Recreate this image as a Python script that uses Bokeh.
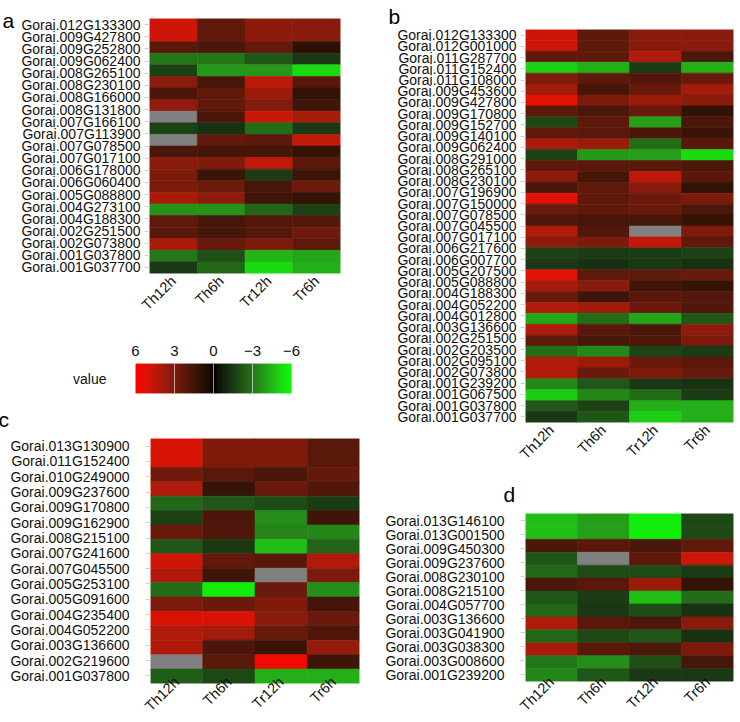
import math
import numpy as np
from bokeh.core.properties import value
from bokeh.embed import file_html
from bokeh.layouts import column, row
from bokeh.models import (CategoricalAxis, ColumnDataSource, FactorRange, FixedTicker,
                          LinearColorMapper, Range1d, Span)
from bokeh.plotting import figure
from bokeh.resources import INLINE
from bokeh.transform import transform

FONT = "Liberation Sans"
NA = float("nan")
BLANK = " "  # tile row that carries no gene label

samples = ["Th12h", "Th6h", "Tr12h", "Tr6h"]

# ---- panel a ----
a_genes = ["Gorai.012G133300", "Gorai.009G427800", "Gorai.009G252800", "Gorai.009G062400",
           "Gorai.008G265100", "Gorai.008G230100", "Gorai.008G166000", "Gorai.008G131800",
           "Gorai.007G166100", "Gorai.007G113900", BLANK, "Gorai.007G078500",
           "Gorai.007G017100", "Gorai.006G178000", "Gorai.006G060400", "Gorai.005G088800",
           "Gorai.004G273100", "Gorai.004G188300", "Gorai.002G251500", "Gorai.002G073800",
           "Gorai.001G037800", "Gorai.001G037700"]
a_th12h = [4.95, 4.95, 2.2, -3.0, -1.6, 3.35, 1.8, 3.55, NA, -1.65, NA, 1.8, 3.35, 3.0, 3.0,
           4.05, -3.6, 2.3, 2.2, 4.05, -3.0, -1.4]
a_th6h = [2.3, 2.3, 1.8, -3.0, -3.75, 1.65, 2.3, 2.35, 1.8, -1.2, 2.4, 1.65, 3.1, 1.4, 2.7,
          3.45, -3.6, 1.65, 1.65, 2.5, -2.0, -2.6]
a_tr12h = [3.45, 3.45, 2.4, -2.2, -3.75, 4.5, 3.75, 3.15, 4.8, -2.75, 2.2, 1.65, 4.6, -1.5,
           1.65, 1.5, -2.6, 2.05, 2.05, 3.0, -4.4, -5.25]
a_tr6h = [3.35, 3.35, 1.0, -1.4, -5.25, 2.2, 1.2, 1.5, 4.05, -1.4, 4.6, 1.25, 2.2, 1.4, 2.7,
          1.2, -1.6, 2.05, 2.7, 2.3, -4.05, -4.25]

# ---- panel b ----
b_genes = ["Gorai.012G133300", "Gorai.012G001000", "Gorai.011G287700", "Gorai.011G152400",
           "Gorai.011G108000", "Gorai.009G453600", "Gorai.009G427800", "Gorai.009G170800",
           "Gorai.009G152700", "Gorai.009G140100", "Gorai.009G062400", "Gorai.008G291000",
           "Gorai.008G265100", "Gorai.008G230100", "Gorai.007G196900", "Gorai.007G150000",
           BLANK, "Gorai.007G078500", "Gorai.007G045500", "Gorai.007G017100",
           "Gorai.006G217600", "Gorai.006G007700", "Gorai.005G207500", "Gorai.005G088800",
           "Gorai.004G188300", "Gorai.004G052200", "Gorai.004G012800", "Gorai.003G136600",
           "Gorai.002G251500", "Gorai.002G203500", "Gorai.002G095100", "Gorai.002G073800",
           "Gorai.001G239200", "Gorai.001G067500", "Gorai.001G037800", "Gorai.001G037700"]
b_th12h = [4.9, 4.9, 2.3, -5.0, 3.0, 3.9, 5.3, 2.3, -1.8, 2.3, 4.05, -1.65, 2.3, 3.45, 1.8,
           5.3, 2.6, 1.9, 4.25, 3.45, -1.65, -1.4, 5.3, 3.9, 2.6, 4.25, -4.05, 4.25, 2.3,
           -2.75, 4.25, 4.25, -3.35, -4.9, -2.2, -1.4]
b_th6h = [2.3, 2.3, 2.3, -4.25, 2.3, 1.65, 3.0, 1.8, 2.3, 2.2, 3.75, -3.75, 2.2, 1.65, 2.3,
          2.3, 2.3, 1.65, 1.95, 3.0, -1.5, -1.2, 2.3, 3.35, 1.5, 3.9, -2.75, 2.2, 1.65,
          -3.35, 3.75, 2.6, -2.2, -3.35, -1.65, -2.2]
b_tr12h = [3.35, 3.35, 4.25, -1.5, 2.0, 2.6, 3.75, 2.6, -3.9, 1.8, -2.75, -3.9, 2.2, 4.5,
           3.35, 2.6, 2.6, 1.65, NA, 4.7, -1.5, -1.4, 2.3, 1.5, 2.2, 2.6, -4.05, 1.8, 1.9,
           -1.65, 2.6, 3.0, -1.4, -2.75, -4.25, -4.95]
b_tr6h = [3.35, 3.35, 1.8, -4.25, 2.6, 3.9, 3.35, 1.1, 1.8, 1.4, 2.2, -5.25, 1.8, 2.2, 1.1,
          3.0, 1.8, 1.25, 3.0, 2.3, -1.65, -1.2, 2.6, 1.25, 2.0, 2.0, -2.2, 3.45, 3.0, -1.5,
          2.2, 2.5, -1.2, -1.5, -4.25, -4.25]

# ---- panel c ----
c_genes = ["Gorai.013G130900", "Gorai.011G152400", "Gorai.010G249000", "Gorai.009G237600",
           "Gorai.009G170800", "Gorai.009G162900", BLANK, "Gorai.008G215100",
           "Gorai.007G241600", "Gorai.007G045500", "Gorai.005G253100", "Gorai.005G091600",
           "Gorai.004G235400", "Gorai.004G052200", "Gorai.003G136600", "Gorai.002G219600",
           "Gorai.001G037800"]
c_th12h = [5.15, 5.15, 2.7, 4.25, -2.6, -1.6, 2.6, -2.2, 4.95, 4.25, -2.75, 3.0, 5.15, 4.25,
           4.25, NA, -2.35]
c_th6h = [3.1, 3.1, 2.2, 1.25, -2.2, 1.8, 1.9, -1.45, 2.4, 1.5, -5.6, 2.6, 5.15, 3.9, 1.8,
          2.2, -1.8]
c_tr12h = [3.1, 3.1, 1.8, 2.6, -1.9, -3.5, -3.25, -4.6, 2.2, NA, 2.6, 3.1, 3.35, 2.5, 1.4,
           5.65, -4.25]
c_tr6h = [2.2, 2.2, 2.4, 2.0, -1.5, 1.5, -3.35, -2.5, 4.25, 3.0, -3.5, 1.6, 2.6, 1.9, 3.65,
          1.5, -4.25]

# ---- panel d ----
d_genes = ["Gorai.013G146100", "Gorai.013G001500", "Gorai.009G450300", "Gorai.009G237600",
           BLANK, "Gorai.008G230100", "Gorai.008G215100", "Gorai.004G057700",
           "Gorai.003G136600", "Gorai.003G041900", "Gorai.003G038300", "Gorai.003G008600",
           "Gorai.001G239200"]
d_th12h = [-4.6, -4.6, 1.8, -2.2, -2.6, 1.8, -2.2, -2.6, 4.25, -2.6, 4.05, -3.0, -3.35]
d_th6h = [-3.9, -3.9, 2.2, NA, -1.9, 2.2, -1.5, -1.4, 2.2, -1.8, 2.2, -3.5, -2.2]
d_tr12h = [-5.6, -5.6, 1.8, 2.3, -1.9, 3.75, -4.6, -1.9, 1.8, -2.2, 1.8, -2.0, -1.4]
d_tr6h = [-1.8, -1.8, 2.3, 4.8, -1.5, 1.2, -2.75, -1.2, 3.35, -1.2, 3.0, 1.65, -1.4]

# ---- colour scale ----
scale_limits = (-6, 6)
legend_ticks = [6, 3, 0, -3, -6]
legend_tick_labels = ["6", "3", "0", "\u22123", "\u22126"]


def lab_to_hex(L, A, B):
    fy = (L + 16) / 116
    fx = fy + A / 500
    fz = fy - B / 200

    def finv(t):
        return t ** 3 if t > 6 / 29 else 3 * (6 / 29) ** 2 * (t - 4 / 29)

    X, Y, Z = 0.95047 * finv(fx), finv(fy), 1.08883 * finv(fz)
    rgb = (3.2406 * X - 1.5372 * Y - 0.4986 * Z,
           -0.9689 * X + 1.8758 * Y + 0.0415 * Z,
           0.0557 * X - 0.2040 * Y + 1.0570 * Z)

    def gamma(c):
        c = min(max(c, 0.0), 1.0)
        return 12.92 * c if c <= 0.0031308 else 1.055 * c ** (1 / 2.4) - 0.055

    return "#%02x%02x%02x" % tuple(int(round(255 * gamma(c))) for c in rgb)


# diverging green - black - red palette, interpolated in CIE Lab
RED_LAB = (53.24, 80.09, 67.20)
GREEN_LAB = (87.73, -86.18, 83.18)
palette = []
for i in range(256):
    t = -1 + 2 * i / 255
    end = GREEN_LAB if t < 0 else RED_LAB
    palette.append(lab_to_hex(*(abs(t) * c for c in end)))

mapper = LinearColorMapper(palette=palette, low=scale_limits[0], high=scale_limits[1],
                           nan_color="#808080")


def letter_strip(letter, width, height, x, baseline):
    """A blank band beside a panel that holds its panel letter."""
    s = figure(width=width, height=height,
               x_range=Range1d(0, width), y_range=Range1d(height, 0),
               x_axis_location=None, y_axis_location=None,
               output_backend="svg", toolbar_location=None,
               min_border_left=0, min_border_right=0,
               min_border_top=0, min_border_bottom=0, frame_align=False)
    s.outline_line_color = None
    s.grid.visible = False
    s.text(x=[x], y=[baseline], text=[letter], text_font=value(FONT),
           text_font_size=value("21px"), text_color="#000000",
           text_baseline="alphabetic", text_align="left")
    return s


def heatmap(genes, columns, width, height, borders, label_gap, tick_gap, letter=None):
    left, right, top, bottom = borders
    xs, ys, vs = [], [], []
    for gi, gene in enumerate(genes):
        for sample, col in zip(samples, columns):
            xs.append(sample)
            ys.append(gene)
            vs.append(col[gi])
    src = ColumnDataSource(dict(sample=xs, gene=ys, value=np.array(vs, dtype=float)))
    labelled = [g for g in genes if g != BLANK]
    p = figure(width=width, height=height,
               x_range=FactorRange(factors=samples),
               y_range=FactorRange(factors=genes[::-1]),
               y_axis_location=None,
               output_backend="svg", toolbar_location=None,
               min_border_left=left, min_border_right=right,
               min_border_top=top, min_border_bottom=bottom,
               frame_align=False)
    p.rect(x="sample", y="gene", width=1, height=1, source=src,
           fill_color=transform("value", mapper),
           line_color=transform("value", mapper), line_width=0.6)
    p.outline_line_color = None
    p.xgrid.visible = False
    p.ygrid.visible = False
    p.background_fill_color = "white"
    p.border_fill_color = "white"

    if letter is not None:
        text, offset, standoff = letter
        p.title.text = text
        p.title.align = "left"
        p.title.offset = offset
        p.title.standoff = standoff
        p.title.vertical_align = "bottom"
        p.title.text_font = FONT
        p.title.text_font_size = "21px"
        p.title.text_font_style = "normal"
        p.title.text_color = "#000000"

    # gene names spread evenly along the left edge
    p.extra_y_ranges = {"names": FactorRange(factors=labelled[::-1])}
    yax = CategoricalAxis(y_range_name="names")
    yax.axis_line_color = None
    yax.major_tick_line_color = "#d2d2d2"
    yax.major_tick_out = 5
    yax.major_tick_in = 0
    yax.major_label_standoff = label_gap
    yax.major_label_text_font = FONT
    yax.major_label_text_font_size = "14px"
    yax.major_label_text_color = "#111111"
    p.add_layout(yax, "left")

    xax = p.xaxis[0]
    xax.axis_line_color = None
    xax.major_tick_line_color = None
    xax.major_tick_out = 0
    xax.major_tick_in = 0
    xax.major_label_orientation = math.pi / 4
    xax.major_label_standoff = tick_gap
    xax.major_label_text_font = FONT
    xax.major_label_text_font_size = "14.5px"
    xax.major_label_text_color = "#111111"
    return p


# left column: a, legend, c
strip_a = letter_strip("a", 18, 330, 2, 19.5)
pa = heatmap(a_genes, [a_th12h, a_th6h, a_tr12h, a_tr6h], 352, 330,
             (131, 30, 18, 57), 4, 5)

leg = figure(width=370, height=67,
             x_range=Range1d(scale_limits[1], scale_limits[0]),
             y_range=FactorRange(factors=["value"]),
             x_axis_location="above",
             output_backend="svg", toolbar_location=None,
             min_border_left=135, min_border_right=79,
             min_border_top=33, min_border_bottom=4,
             frame_align=False)
edges = np.linspace(scale_limits[0], scale_limits[1], 121)
mids = (edges[:-1] + edges[1:]) / 2
grad = ColumnDataSource(dict(v=mids, y=["value"] * len(mids)))
leg.rect(x="v", y="y", width=2 * (edges[1] - edges[0]), height=1, source=grad,
         fill_color=transform("v", mapper), line_color=None)
for t in legend_ticks[1:-1]:
    leg.add_layout(Span(location=t, dimension="height", line_color="white",
                        line_alpha=0.6, line_width=1))
leg.outline_line_color = None
leg.xgrid.visible = False
leg.ygrid.visible = False
lx = leg.xaxis[0]
lx.ticker = FixedTicker(ticks=legend_ticks)
lx.major_label_overrides = {t: s for t, s in zip(legend_ticks, legend_tick_labels)}
lx.axis_line_color = None
lx.major_tick_line_color = None
lx.minor_tick_line_color = None
lx.major_tick_out = 0
lx.major_label_standoff = 8
lx.major_label_text_font = FONT
lx.major_label_text_font_size = "15px"
lx.major_label_text_color = "#111111"
ly = leg.yaxis[0]
ly.axis_line_color = None
ly.major_tick_line_color = None
ly.major_tick_out = 0
ly.major_label_standoff = 29
ly.major_label_text_font = FONT
ly.major_label_text_font_size = "14px"
ly.major_label_text_color = "#111111"

pc = heatmap(c_genes, [c_th12h, c_th6h, c_tr12h, c_tr6h], 370, 325,
             (150, 11, 41, 38), 16, -4, ("c", -152, 15))

# right column: b, d
pb = heatmap(b_genes, [b_th12h, b_th6h, b_tr12h, b_tr6h], 370, 470,
             (155, 7, 29, 48), 4, 5, ("b", -137, 4))
pd = heatmap(d_genes, [d_th12h, d_th6h, d_tr12h, d_tr6h], 370, 252,
             (155, 7, 43, 40), 16, -2, ("d", -22, 16))

left_col = column(row(strip_a, pa, spacing=0), leg, pc, spacing=0)
right_col = column(pb, pd, spacing=0)
layout = row(left_col, right_col, spacing=0)

with open("out.html", "w") as f:
    f.write(file_html(layout, INLINE, "Expression heatmaps"))
